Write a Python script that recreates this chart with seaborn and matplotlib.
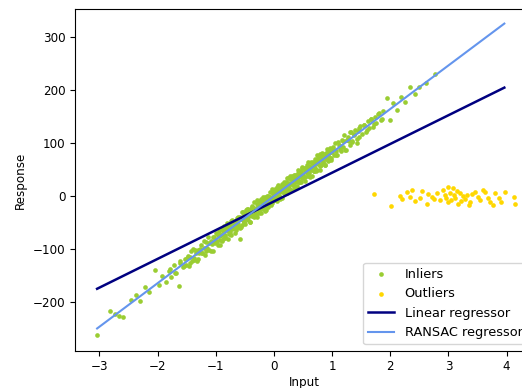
import numpy as np
import pandas as pd
import seaborn as sns
import matplotlib
matplotlib.use("Agg")
import matplotlib.pyplot as plt

# inlier points
inlier_x = [-3.04, -2.82, -2.74, -2.66, -2.59, -2.45, -2.38, -2.31, -2.22, -2.14, -2.05, -1.98,
            -1.92, -1.86, -1.81, -1.77, -1.72, -1.68, -1.64, -1.61, -1.57, -1.53, -1.51,
            -1.48, -1.46, -1.44, -1.41, -1.39, -1.37, -1.34, -1.32, -1.30, -1.28, -1.25, -1.23,
            -1.21, -1.19, -1.17, -1.15, -1.13, -1.11, -1.09, -1.07, -1.05, -1.03, -1.01,
            -0.99, -0.98, -0.96, -0.95, -0.94, -0.92, -0.91, -0.89, -0.88, -0.86, -0.85, -0.84,
            -0.82, -0.81, -0.79, -0.78, -0.76, -0.75, -0.74, -0.72, -0.71, -0.69, -0.68, -0.66,
            -0.65, -0.64, -0.62, -0.61, -0.59, -0.585, -0.58, -0.56, -0.55, -0.54, -0.52, -0.51,
            -0.50, -0.49, -0.48, -0.47, -0.46, -0.45, -0.44, -0.43, -0.42, -0.41, -0.40, -0.39,
            -0.38, -0.37, -0.36, -0.35, -0.34, -0.33, -0.32, -0.31, -0.30, -0.29, -0.28, -0.27,
            -0.26, -0.25, -0.24, -0.23, -0.22, -0.21, -0.20, -0.19, -0.18, -0.17, -0.16, -0.15,
            -0.14, -0.13, -0.12, -0.11, -0.10, -0.09, -0.08, -0.07, -0.06, -0.05, -0.04, -0.03,
            -0.02, -0.01,
            0.00, 0.01, 0.02, 0.03, 0.04, 0.05, 0.06, 0.07, 0.08, 0.09, 0.10, 0.11, 0.12, 0.13,
            0.14, 0.15, 0.16, 0.17, 0.18, 0.19, 0.20, 0.21, 0.22, 0.23, 0.24, 0.25, 0.26, 0.27,
            0.28, 0.29, 0.30, 0.31, 0.32, 0.33, 0.34, 0.35, 0.36, 0.37, 0.38, 0.39, 0.40, 0.41,
            0.42, 0.43, 0.44, 0.45, 0.46, 0.47, 0.48, 0.49,
            0.50, 0.51, 0.53, 0.54, 0.55, 0.56, 0.58, 0.59, 0.60, 0.61, 0.63, 0.64, 0.65, 0.66,
            0.68, 0.69, 0.70, 0.71, 0.73, 0.74, 0.75, 0.76, 0.78, 0.79, 0.80, 0.81, 0.83, 0.84,
            0.85, 0.86, 0.88, 0.89, 0.90, 0.91, 0.93, 0.94, 0.95, 0.96, 0.98, 0.99,
            1.01, 1.03, 1.05, 1.07, 1.09, 1.11, 1.13, 1.15, 1.17, 1.19, 1.21, 1.23, 1.25, 1.27,
            1.29, 1.31, 1.33, 1.35, 1.37, 1.40, 1.42, 1.44, 1.46, 1.48,
            1.52, 1.55, 1.58, 1.61, 1.64, 1.67, 1.70, 1.73, 1.76, 1.80, 1.84, 1.88, 1.94, 2.00,
            2.05, 2.11, 2.18, 2.26, 2.34, 2.42, 2.50, 2.62, 2.77,
            # second pass over the dense core of the band
            -0.995, -0.975, -0.955, -0.935, -0.915, -0.895, -0.875, -0.855, -0.835, -0.815,
            -0.795, -0.775, -0.755, -0.735, -0.715, -0.695, -0.675, -0.655, -0.635, -0.615,
            -0.595, -0.575, -0.555, -0.535, -0.515, -0.495, -0.475, -0.455, -0.435, -0.415,
            -0.395, -0.375, -0.355, -0.335, -0.315, -0.295, -0.275, -0.255, -0.235, -0.215,
            -0.195, -0.175, -0.155, -0.135, -0.115, -0.095, -0.075, -0.055, -0.035, -0.015,
            0.005, 0.025, 0.045, 0.065, 0.085, 0.105, 0.125, 0.145, 0.165, 0.185,
            0.205, 0.225, 0.245, 0.265, 0.285, 0.305, 0.325, 0.345, 0.365, 0.385,
            0.405, 0.425, 0.445, 0.465, 0.485, 0.505, 0.525, 0.545, 0.565, 0.585,
            0.605, 0.625, 0.645, 0.665, 0.685, 0.705, 0.725, 0.745, 0.765, 0.785,
            0.805, 0.825, 0.845, 0.865, 0.885, 0.905, 0.925, 0.945, 0.965, 0.985,
            -1.49, -1.45, -1.42, -1.38, -1.35, -1.31, -1.27, -1.24, -1.20, -1.16, -1.12, -1.08,
            -1.04, -1.02, 1.02, 1.06, 1.10, 1.14, 1.18, 1.22, 1.26, 1.30, 1.34, 1.38, 1.43, 1.47,
            -1.79, -1.70, -1.62, -1.55, 1.54, 1.60, 1.66, 1.72, 1.78, 1.86]
inlier_y = [-263, -217, -222, -226, -229, -196, -187, -199, -172, -181, -140, -168,
            -150, -162, -141, -152, -130, -145, -170, -127, -134, -119, -131,
            -113, -132, -115, -122, -100, -121, -108, -123, -101, -108, -92, -108,
            -98, -111, -87, -98, -77, -101, -84, -90, -104, -77, -89,
            -86, -71, -93, -75, -65, -83, -74, -84, -66, -56, -73, -78,
            -63, -56, -81, -62, -55, -68, -73, -46, -58, -61, -47, -64,
            -48, -59, -40, -52, -40, -81, -61, -43, -54, -30, -48, -36,
            -34, -52, -37, -24, -44, -46, -25, -38, -30, -48, -25, -33,
            -18, -37, -25, -40, -12, -31, -25, -33, -15, -39, -20, -16,
            -31, -9, -25, -10, -31, -15, -18, -2, -24, -10, -19, -1,
            -27, -4, -13, 0, -20, -2, -6, -14, 8, -8, 7, -13,
            4, -8,
            5, -8, 14, -2, 11, -9, 7, 21, 1, 17, 7, -2, 17, 14,
            -4, 21, 8, 27, 7, 17, 27, 14, 6, 25, 34, 14, 25, 12,
            39, 22, 33, 11, 31, 21, 40, 20, 33, 40, 27, 19, 40, 33,
            49, 27, 38, 26, 47, 43, 34, 53,
            35, 53, 29, 47, 54, 44, 64, 38, 54, 43, 64, 49, 38, 62,
            57, 48, 71, 53, 66, 49, 72, 61, 68, 49, 79, 58, 70, 80,
            64, 78, 59, 82, 71, 90, 66, 82, 74, 91, 73, 84,
            92, 77, 100, 85, 77, 97, 94, 85, 107, 93, 115, 87, 107, 112,
            104, 96, 122, 105, 115, 125, 101, 123, 112, 133,
            118, 135, 122, 142, 128, 146, 131, 150, 138, 158, 143, 161, 185, 144,
            176, 162, 188, 178, 206, 193, 207, 214, 230,
            -69, -84, -71, -92, -73, -63, -81, -65, -80, -51,
            -66, -71, -53, -47, -63, -50, -70, -52, -42, -59,
            -44, -59, -30, -45, -49, -32, -26, -41, -29, -49,
            -30, -21, -38, -22, -38, -8, -24, -28, -10, -5,
            -20, -7, -28, -9, 1, -17, -1, -17, 13, -2,
            -7, 11, 17, 1, 14, -6, 12, 22, 5, 20,
            5, 34, 19, 15, 32, 38, 23, 35, 15, 34,
            43, 26, 41, 26, 56, 40, 36, 54, 59, 44,
            57, 36, 55, 65, 47, 63, 47, 77, 62, 57,
            75, 81, 65, 78, 58, 76, 86, 68, 84, 69,
            -117, -127, -104, -116, -102, -118, -100, -108, -85, -104, -89, -103,
            -77, -86, 90, 77, 102, 89, 104, 88, 106, 121, 103, 118, 108, 129,
            -138, -146, -122, -132, 134, 125, 146, 137, 155, 145]

# outlier points
outlier_x = [1.72, 2.01, 2.17, 2.20, 2.28, 2.34, 2.38, 2.43, 2.51, 2.55, 2.63, 2.65, 2.71, 2.75,
             2.80, 2.86, 2.90, 2.94, 2.95, 3.00, 3.00, 3.03, 3.05, 3.08, 3.10, 3.12, 3.14, 3.17,
             3.20, 3.22, 3.25, 3.28, 3.32, 3.35, 3.37, 3.40, 3.46, 3.51, 3.55, 3.60, 3.63, 3.68,
             3.72, 3.77, 3.80, 3.86, 3.90, 3.98, 4.13, 4.14]
outlier_y = [4, -19, 0, -5, 8, -2, 12, -9, -4, 10, -14, 4, -1, -6,
             6, -8, 12, 2, -3, -11, 18, 5, -7, 15, 3, -4, 9, -14,
             6, -9, 0, -5, 2, -16, -11, 4, 8, -1, -8, 12, 8, -3,
             -11, -17, 5, -4, -12, 8, -2, -14]

# fitted lines
line_x = [-3.04, 3.96]
linear_y = [-175, 205]
ransac_y = [-250, 326]

plt.rcParams['font.family'] = ['DejaVu Sans']
plt.rcParams['font.size'] = 8.6

fig = plt.figure(figsize=(5.22, 3.88), dpi=100)
# the axes run past the right edge, as in the cropped original
ax = fig.add_axes([75 / 522, 37.3 / 388, 459 / 522, 341.4 / 388])

sns.scatterplot(x=inlier_x, y=inlier_y, color="yellowgreen", marker=".", s=45,
                edgecolor="yellowgreen", linewidth=0, label="Inliers", ax=ax)
sns.scatterplot(x=outlier_x, y=outlier_y, color="gold", marker=".", s=45,
                edgecolor="gold", linewidth=0, label="Outliers", ax=ax)
sns.lineplot(x=line_x, y=linear_y, color="navy", linewidth=1.8, label="Linear regressor", ax=ax)
sns.lineplot(x=line_x, y=ransac_y, color="cornflowerblue", linewidth=1.5,
             label="RANSAC regressor", ax=ax)

ax.set_xlim(-3.42, 4.47)
ax.set_ylim(-292, 353)
ax.set_xticks([-3, -2, -1, 0, 1, 2, 3, 4])
ax.set_yticks([-200, -100, 0, 100, 200, 300])
ax.spines['right'].set_visible(False)
ax.set_xlabel("Input", labelpad=1.5)
ax.set_ylabel("Response")
ax.legend(loc="lower right", fontsize=9.3)

fig.savefig("out.png", dpi=100)
